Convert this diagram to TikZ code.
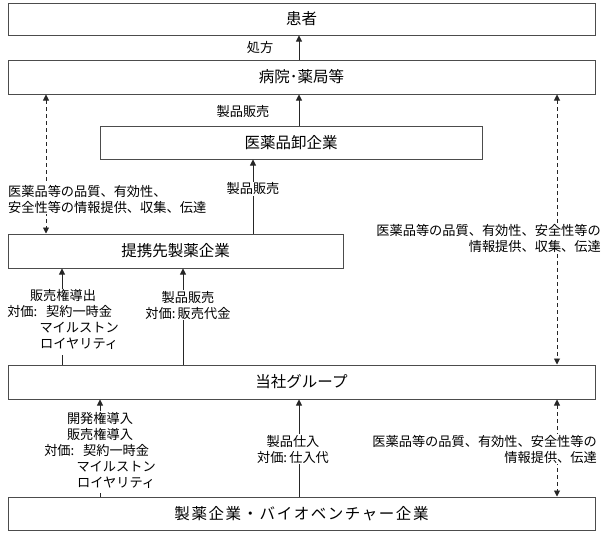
\documentclass[tikz,border=0pt]{standalone}
\usepackage{fontspec}
\setmainfont{Noto Sans CJK JP}
\newfontfamily\widefont[LetterSpace=10]{Noto Sans CJK JP}
\usetikzlibrary{arrows.meta}
\begin{document}
\begin{tikzpicture}[x=1pt,y=-1pt,
  box/.style={draw=black!70, line width=1pt, inner sep=0pt, font=\fontsize{15.5}{18}\selectfont},
  lab/.style={font=\fontsize{13.2}{16}\selectfont, inner sep=1pt, align=center},
  labw/.style={lab, fill=white},
  arr/.style={draw=black!85, line width=0.9pt, -{Triangle[length=6pt,width=6pt]}},
  darr/.style={draw=black!85, line width=0.9pt, {Triangle[length=6pt,width=6pt]}-{Triangle[length=6pt,width=6pt]}, dash pattern=on 4pt off 3pt}]
\useasboundingbox (0,0) rectangle (602,538);
\fill[white] (0,0) rectangle (602,538);
% boxes
\node[box, minimum width=587pt, minimum height=32pt] (kanja) at (301.5,19) {患者};
\node[box, minimum width=587pt, minimum height=34pt] (byoin) at (301.5,77) {病院･薬局等};
\node[box, minimum width=382pt, minimum height=33pt] (oroshi) at (291,142.5) {医薬品卸企業};
\node[box, minimum width=335pt, minimum height=34pt] (teikei) at (175.5,251) {提携先製薬企業};
\node[box, minimum width=587pt, minimum height=34pt] (tosha) at (301.5,382) {当社グループ};
\node[box, minimum width=587pt, minimum height=33pt] (seiyaku) at (301.5,513.5) {\widefont 製薬企業・バイオベンチャー企業};
% columns
\coordinate (cM) at (299,0);
\coordinate (cL) at (46,0);
\coordinate (cR) at (557,0);
\coordinate (cT) at (253,0);
\coordinate (cA) at (62,0);
\coordinate (cB) at (183,0);
\coordinate (cC) at (100,0);
% connectors
\draw[arr] (byoin.north -| cM) -- (kanja.south -| cM);
\draw[arr] (oroshi.north -| cM) -- (byoin.south -| cM);
\draw[arr] (teikei.north -| cT) -- (oroshi.south -| cT);
\draw[darr] (byoin.south -| cL) -- (teikei.north -| cL);
\draw[darr] (byoin.south -| cR) -- (tosha.north -| cR);
\draw[arr] (tosha.north -| cA) -- (teikei.south -| cA);
\draw[arr] (tosha.north -| cB) -- (teikei.south -| cB);
\draw[arr] (seiyaku.north -| cC) -- (tosha.south -| cC);
\draw[arr] (seiyaku.north -| cM) -- (tosha.south -| cM);
\draw[darr] (tosha.south -| cR) -- (seiyaku.north -| cR);
% labels
\node[lab] (l1) at (260,47) {処方};
\node[lab] (l2) at (243,112) {製品販売};
\node[labw] (l3) at (253,189) {製品販売};
\node[labw, anchor=west, align=left] (l4) at (7,199) {医薬品等の品質、有効性、\\安全性等の情報提供、収集、伝達};
\node[labw, anchor=east, align=right] (l5) at (602,238.5) {医薬品等の品質、有効性、安全性等の\\情報提供、収集、伝達};
\node[labw] (l6) at (63,321.5) {\begin{tabular}{@{}r@{}c@{}}\multicolumn{2}{c}{販売権導出}\\ 対価:\,&契約一時金\\ &マイルストン\\ &ロイヤリティ\end{tabular}};
\node[labw] (l7) at (188,305) {製品販売\\対価:\,販売代金};
\node[labw] (l8) at (100,452) {\begin{tabular}{@{}r@{}c@{}}\multicolumn{2}{c}{開発権導入}\\ \multicolumn{2}{c}{販売権導入}\\ 対価:\,&契約一時金\\ &マイルストン\\ &ロイヤリティ\end{tabular}};
\node[labw] (l9) at (293,449) {製品仕入\\対価:\,仕入代};
\node[labw, anchor=east, align=right] (l10) at (598,449) {医薬品等の品質、有効性、安全性等の\\情報提供、伝達};
\end{tikzpicture}
\end{document}
